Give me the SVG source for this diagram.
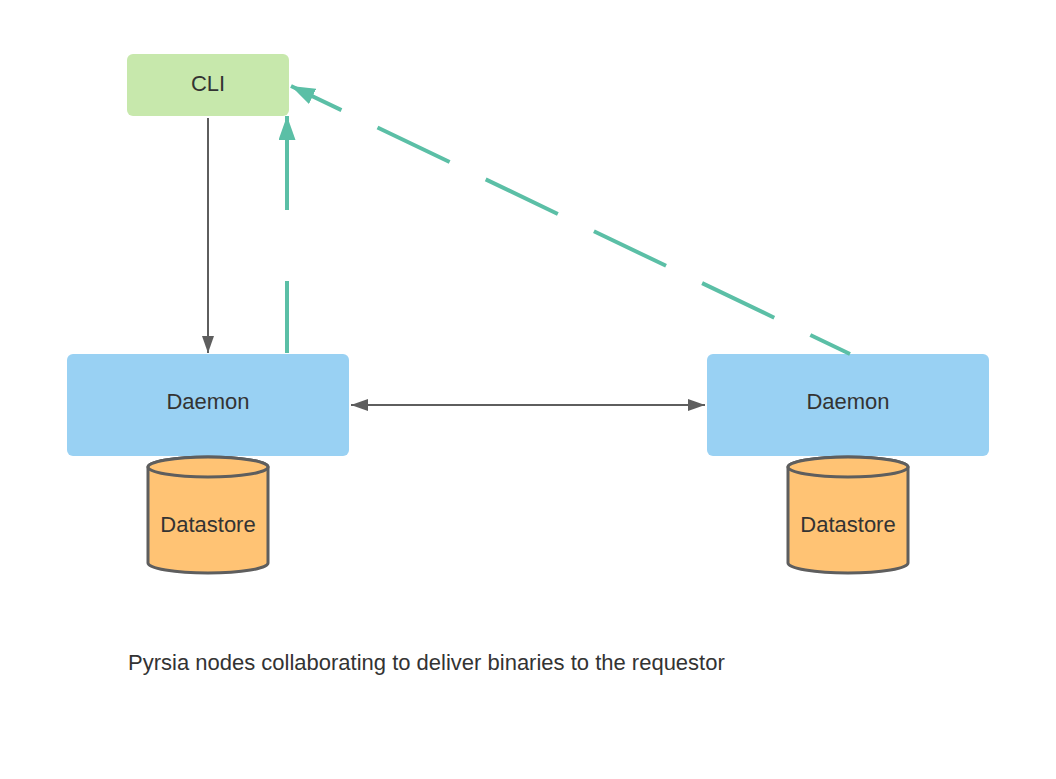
<svg xmlns="http://www.w3.org/2000/svg" width="1056" height="779" viewBox="0 0 1056 779">
<style>
.t{font-family:"Liberation Sans",Arial,sans-serif;font-size:22px;fill:#333333;text-anchor:middle;dominant-baseline:central}
.daemon{fill:#99d1f3}
.db{fill:#ffc374;stroke:#5e5e5e;stroke-width:3}
.gray{stroke:#5e5e5e;stroke-width:2;fill:none}
.green{stroke:#5bbfa6;stroke-width:4;fill:none}
</style>
<defs>
<marker id="ag" markerUnits="userSpaceOnUse" markerWidth="26" markerHeight="18" refX="24" refY="8.5" orient="auto"><path d="M0,0 L24,8.5 L0,17 Z" fill="#5bbfa6"/></marker>
<marker id="ab" markerUnits="userSpaceOnUse" markerWidth="18" markerHeight="14" refX="17" refY="6" orient="auto-start-reverse"><path d="M0,0 L17,6 L0,12 Z" fill="#5e5e5e"/></marker>
</defs>
<rect width="1056" height="779" fill="#ffffff"/>
<g id="cli"><rect x="127" y="54" width="162" height="62" rx="6" fill="#c7e8ac"/><text class="t" x="208" y="83">CLI</text></g>
<g id="daemon1"><rect class="daemon" x="67" y="354" width="282" height="102" rx="6"/><text class="t" x="208" y="401">Daemon</text></g>
<g id="daemon2"><rect class="daemon" x="707" y="354" width="282" height="102" rx="6"/><text class="t" x="848" y="401">Daemon</text></g>
<g id="datastore1"><path class="db" d="M148,467 L148,563 A60,10 0 0 0 268,563 L268,467 A60,10 0 0 0 148,467 Z"/><ellipse class="db" cx="208" cy="467" rx="60" ry="10"/><text class="t" x="208" y="524">Datastore</text></g>
<g id="datastore2"><path class="db" d="M788,467 L788,563 A60,10 0 0 0 908,563 L908,467 A60,10 0 0 0 788,467 Z"/><ellipse class="db" cx="848" cy="467" rx="60" ry="10"/><text class="t" x="848" y="524">Datastore</text></g>
<g id="connectors">
<line class="gray" x1="208" y1="118" x2="208" y2="353" marker-end="url(#ab)"/>
<line class="gray" x1="351" y1="405" x2="705" y2="405" marker-start="url(#ab)" marker-end="url(#ab)"/>
<line class="green" x1="287" y1="353" x2="287" y2="116" stroke-dasharray="72 71 200" marker-end="url(#ag)"/>
<line class="green" x1="850" y1="354" x2="291" y2="86" stroke-dasharray="80 40" stroke-dashoffset="36" marker-end="url(#ag)"/>
</g>
<text x="128" y="662" style="font-family:'Liberation Sans',Arial,sans-serif;font-size:22px;fill:#333333;dominant-baseline:central">Pyrsia nodes collaborating to deliver binaries to the requestor</text>
</svg>
